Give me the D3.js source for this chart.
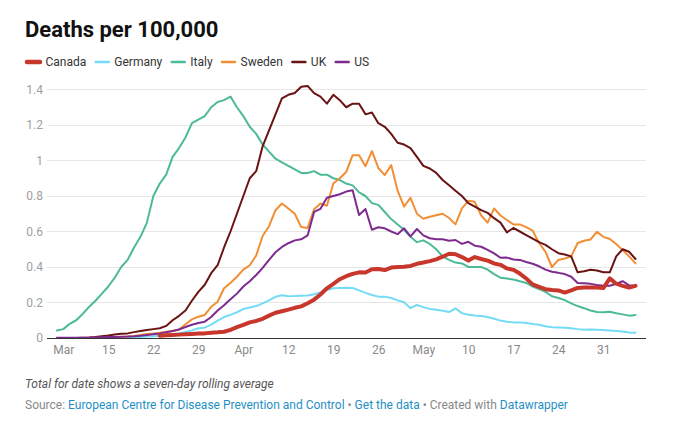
<!DOCTYPE html>
<html><head><meta charset="utf-8">
<script src="https://cdn.jsdelivr.net/npm/d3@7"></script>
<style>
body{margin:0;background:#fff;}
svg{display:block;font-family:Roboto,"Noto Sans",sans-serif;}
</style></head>
<body><svg id="c" width="675" height="422"></svg>
<script>
const seriesNames = ["Canada","Germany","Italy","Sweden","UK","US"];
const seriesColors = ["#c8372b","#74dbf7","#4cba98","#f28e33","#6a1313","#7e2b8f"];
const startDate = "2020-03-07", endDate = "2020-06-05";
const yTicks = [0,0.2,0.4,0.6,0.8,1,1.2,1.4];
const yTickLabels = ["0","0.2","0.4","0.6","0.8","1","1.2","1.4"];
const xTickDates = ["2020-03-08","2020-03-15","2020-03-22","2020-03-29","2020-04-05","2020-04-12","2020-04-19","2020-04-26","2020-05-03","2020-05-10","2020-05-17","2020-05-24","2020-05-31"];
const xTickLabels = ["Mar","15","22","29","Apr","12","19","26","May","10","17","24","31"];

const canada = [null,null,null,null,null,null,null,null,null,null,null,null,null,null,null,null,
0.013,0.015,0.017,0.019,
0.021,0.023,0.025,0.026,0.03,0.032,0.035,0.046,0.061,0.074,
0.088,0.096,0.108,0.126,0.142,0.151,0.16,0.17,0.178,0.196,
0.216,0.245,0.28,0.305,0.331,0.348,0.361,0.37,0.369,0.387,
0.389,0.383,0.397,0.40,0.401,0.406,0.418,0.425,0.433,0.443,
0.458,0.475,0.472,0.456,0.436,0.456,0.445,0.436,0.42,0.412,
0.392,0.384,0.363,0.335,0.302,0.288,0.275,0.27,0.268,0.256,
0.268,0.282,0.285,0.285,0.284,0.281,0.336,0.306,0.294,0.284,
0.294];
const germany = [0,0,0,0,0,0,0,0,0,0,
0.001,0.002,0.003,0.005,0.008,0.01,0.013,0.017,0.021,0.025,
0.034,0.043,0.055,0.058,0.075,0.098,0.118,0.13,0.145,0.163,
0.172,0.18,0.195,0.212,0.232,0.241,0.235,0.236,0.238,0.24,
0.247,0.256,0.27,0.28,0.282,0.283,0.282,0.268,0.254,0.242,
0.233,0.233,0.225,0.212,0.201,0.168,0.186,0.174,0.164,0.159,
0.153,0.146,0.167,0.14,0.131,0.127,0.124,0.118,0.108,0.098,
0.092,0.088,0.088,0.084,0.079,0.075,0.066,0.06,0.059,0.058,
0.055,0.05,0.046,0.048,0.047,0.045,0.042,0.039,0.036,0.031,
0.03];
const italy = [0.042,0.05,0.08,0.10,0.135,0.175,0.21,0.25,0.29,0.34,
0.40,0.44,0.51,0.57,0.65,0.80,0.87,0.92,1.02,1.07,
1.13,1.21,1.23,1.25,1.30,1.33,1.34,1.36,1.30,1.25,
1.19,1.15,1.09,1.05,1.01,0.99,0.97,0.95,0.93,0.93,
0.94,0.92,0.92,0.90,0.89,0.87,0.86,0.82,0.80,0.76,
0.75,0.71,0.67,0.64,0.61,0.57,0.54,0.55,0.53,0.50,
0.46,0.44,0.425,0.42,0.40,0.40,0.40,0.385,0.36,0.34,
0.335,0.33,0.32,0.31,0.29,0.275,0.26,0.235,0.225,0.214,
0.195,0.18,0.168,0.155,0.147,0.145,0.148,0.14,0.133,0.126,
0.13];
const sweden = [0,0,0,0,0,0,0,0,0,0,
0.005,0.008,0.012,0.017,0.022,0.026,0.03,0.035,0.04,0.048,
0.077,0.105,0.12,0.13,0.176,0.204,0.28,0.31,0.345,0.385,
0.41,0.465,0.575,0.63,0.72,0.758,0.73,0.70,0.625,0.62,
0.725,0.758,0.745,0.87,0.90,0.935,1.03,1.03,0.968,1.053,
0.958,0.918,0.974,0.83,0.74,0.79,0.70,0.672,0.683,0.692,
0.70,0.676,0.64,0.73,0.773,0.767,0.69,0.65,0.73,0.69,
0.665,0.64,0.64,0.625,0.605,0.535,0.485,0.40,0.44,0.448,
0.46,0.535,0.548,0.555,0.598,0.57,0.558,0.53,0.495,0.46,
0.42];
const uk = [0,0,0,0,0.002,0.003,0.005,0.01,0.014,0.02,
0.024,0.026,0.033,0.04,0.045,0.05,0.055,0.068,0.10,0.125,
0.155,0.21,0.26,0.30,0.365,0.41,0.51,0.60,0.70,0.80,
0.90,0.94,1.08,1.17,1.26,1.35,1.37,1.38,1.415,1.42,
1.38,1.36,1.32,1.37,1.34,1.30,1.32,1.32,1.26,1.27,
1.21,1.19,1.15,1.10,1.09,1.07,1.02,0.97,0.955,0.93,
0.89,0.86,0.83,0.80,0.76,0.74,0.72,0.705,0.675,0.65,
0.595,0.62,0.60,0.58,0.56,0.54,0.525,0.50,0.478,0.47,
0.46,0.37,0.376,0.385,0.38,0.37,0.37,0.46,0.50,0.486,
0.445];
const us = [0.001,0.001,0.001,0.002,0.002,0.002,0.003,0.004,0.005,0.006,
0.007,0.008,0.01,0.013,0.017,0.021,0.026,0.032,0.04,0.048,
0.062,0.075,0.085,0.092,0.118,0.155,0.185,0.218,0.25,0.29,
0.32,0.355,0.395,0.44,0.483,0.513,0.534,0.55,0.556,0.578,
0.71,0.728,0.79,0.80,0.81,0.825,0.832,0.693,0.727,0.61,
0.624,0.618,0.60,0.585,0.618,0.572,0.614,0.578,0.562,0.556,
0.556,0.548,0.552,0.53,0.542,0.52,0.514,0.497,0.477,0.452,
0.453,0.442,0.44,0.428,0.418,0.404,0.385,0.373,0.367,0.36,
0.345,0.31,0.308,0.305,0.299,0.294,0.294,0.306,0.32,0.297,
0.293];

const seriesValues = [canada, germany, italy, sweden, uk, us];
const parse = d3.utcParse("%Y-%m-%d");
const dates = d3.utcDay.range(parse(startDate), d3.utcDay.offset(parse(endDate), 1));

const svg = d3.select("#c");
const plotL = 47, plotR = 646;
const x = d3.scaleUtc().domain([parse(startDate), parse(endDate)]).range([56.9, 635.5]);
const y = d3.scaleLinear().domain([0, 1.4]).range([338, 89.5]);

// title
svg.append("text").attr("x", 25).attr("y", 37).text("Deaths per 100,000")
  .attr("font-size", 22).attr("font-weight", 700).attr("fill", "#111");

// legend
let lx = 26;
const legend = svg.append("g");
seriesNames.forEach((name, i) => {
  const thick = i === 0 ? 4.5 : 2.5;
  legend.append("line").attr("x1", lx + 1).attr("x2", lx + 14).attr("y1", 62).attr("y2", 62)
    .attr("stroke", seriesColors[i]).attr("stroke-width", thick).attr("stroke-linecap", "round");
  const t = legend.append("text").attr("x", lx + 19.5).attr("y", 66.2).text(name)
    .attr("font-size", 12).attr("fill", "#333");
  lx += 19.5 + t.node().getComputedTextLength() + 8.5;
});

// gridlines + y labels
const yAxis = d3.axisLeft(y).tickValues(yTicks).tickFormat((d, i) => yTickLabels[i]).tickSize(0).tickPadding(0);
const gy = svg.append("g").attr("transform", `translate(${plotL - 4},0)`).call(yAxis);
gy.select(".domain").remove();
gy.selectAll("text").attr("font-size", 12).attr("fill", "#a0a0a0").attr("font-family", "Roboto");
svg.append("g").selectAll("line").data(yTicks.filter(d => d > 0)).join("line")
  .attr("x1", plotL).attr("x2", plotR).attr("y1", d => y(d)).attr("y2", d => y(d))
  .attr("stroke", "#e6e6e6").attr("stroke-width", 1).attr("shape-rendering", "crispEdges");

// x axis labels
const xAxis = d3.axisBottom(x).tickValues(xTickDates.map(parse)).tickFormat((d, i) => xTickLabels[i]).tickSize(0).tickPadding(0);
const gx = svg.append("g").attr("transform", `translate(0,${y(0) + 7})`).call(xAxis);
gx.select(".domain").remove();
gx.selectAll("text").attr("font-size", 12).attr("fill", "#8a8a8a").attr("font-family", "Roboto");

// lines
const line = d3.line().defined(d => d[1] != null).x(d => x(d[0])).y(d => y(d[1]));
const drawOrder = [1, 2, 3, 4, 5, 0];
drawOrder.forEach(i => {
  const pts = dates.map((dt, k) => [dt, seriesValues[i][k]]);
  svg.append("path").datum(pts).attr("d", line).attr("fill", "none")
    .attr("stroke", seriesColors[i]).attr("stroke-width", i === 0 ? 4 : 2)
    .attr("stroke-linejoin", "round").attr("stroke-linecap", "round");
});

// baseline
svg.append("line").attr("x1", plotL).attr("x2", plotR).attr("y1", y(0)).attr("y2", y(0))
  .attr("stroke", "#333").attr("stroke-width", 1).attr("shape-rendering", "crispEdges");

// notes
svg.append("text").attr("x", 25).attr("y", 388).text("Total for date shows a seven-day rolling average")
  .attr("font-size", 12).attr("font-style", "italic").attr("fill", "#555");
const src = svg.append("text").attr("x", 25).attr("y", 409).attr("font-size", 12);
const parts = [["Source: ", "#888"], ["European Centre for Disease Prevention and Control", "#1f8fc4"], [" • ", "#888"], ["Get the data", "#1f8fc4"], [" • Created with ", "#888"], ["Datawrapper", "#1f8fc4"]];
parts.forEach(p => src.append("tspan").text(p[0]).attr("fill", p[1]));
</script></body></html>
